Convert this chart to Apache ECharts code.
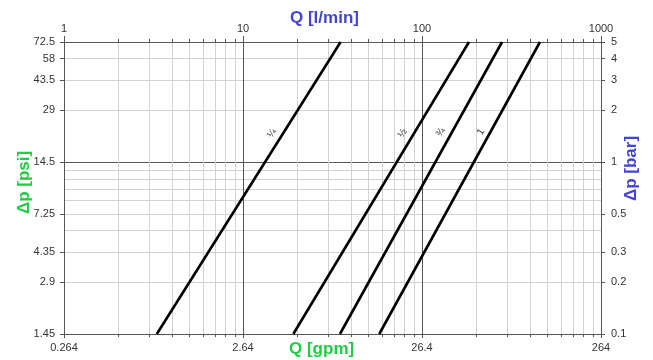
<!DOCTYPE html>
<html>
<head>
<meta charset="utf-8">
<script src="https://cdn.jsdelivr.net/npm/echarts@6/dist/echarts.min.js"></script>
<style>
    html, body { margin: 0; padding: 0; background: #fff; }
    #main { width: 653px; height: 360px; }
</style>
</head>
<body>
<div id="main"></div>
<script>
// Q in l/min, dp in bar, read where each curve meets the frame
var flowQuarter = [3.3, 35.1];
var dpQuarter = [0.1, 5];
var flowHalf = [19.1, 183];
var dpHalf = [0.1, 5];
var flowThreeQuarter = [34.8, 280];
var dpThreeQuarter = [0.1, 5];
var flowOne = [57.7, 456];
var dpOne = [0.1, 5];

// size labels written along the curves
var sizeNames = ['¼', '½', '¾', '1'];
var sizeLabelFlow = [14.5, 78, 127, 213];
var sizeLabelDp = [1.47, 1.47, 1.49, 1.5];

// axis ticks
var flowTicks = [1, 10, 100, 1000];
var gpmLabels = ['0.264', '2.64', '26.4', '264'];
var barTicks = [0.1, 0.2, 0.3, 0.5, 1, 2, 3, 4, 5];
var barLabels = ['0.1', '0.2', '0.3', '0.5', '1', '2', '3', '4', '5'];
var psiLabels = ['1.45', '2.9', '4.35', '7.25', '14.5', '29', '43.5', '58', '72.5'];

var FONT = 'Liberation Sans, Arial, sans-serif';
var BLUE = '#4444d4';
var GREEN = '#22cc44';
var DARK = '#555555';
var LIGHT = '#d2d2d2';

function findIndex(list, value) {
    for (var i = 0; i < list.length; i++) {
        if (Math.abs(list[i] - value) < list[i] * 1e-4) {
            return i;
        }
    }
    return -1;
}

function lineSeries(flows, dps, idx) {
    var data = [];
    for (var i = 0; i < flows.length; i++) {
        data.push([flows[i], dps[i]]);
    }
    return {
        name: sizeNames[idx],
        type: 'line',
        xAxisIndex: 0,
        yAxisIndex: 1,
        data: data,
        symbol: 'none',
        silent: true,
        lineStyle: { color: '#000', width: 2.6 },
        markPoint: {
            symbol: 'circle',
            symbolSize: 0,
            silent: true,
            label: {
                show: true,
                position: 'inside',
                rotate: 58,
                color: '#333',
                fontSize: 10,
                fontFamily: FONT,
                formatter: sizeNames[idx]
            },
            data: [{ coord: [sizeLabelFlow[idx], sizeLabelDp[idx]] }]
        }
    };
}

// dark line at 1 bar, light for the rest
var barSplitColors = [];
for (var i = 0; i < barTicks.length; i++) {
    barSplitColors.push((barTicks[i] === 1 || i === 0 || i === barTicks.length - 1) ? DARK : LIGHT);
}

var myChart = echarts.init(document.getElementById('main'));
var option = {
    animation: false,
    backgroundColor: '#fff',
    grid: { left: 64, right: 52, top: 42, bottom: 26 },
    xAxis: [
        {
            type: 'log',
            position: 'top',
            min: 1,
            max: 1000,
            axisLine: { onZero: false, lineStyle: { color: DARK, width: 1 } },
            axisTick: { show: true, length: 6, lineStyle: { color: DARK } },
            minorTick: { show: true, splitNumber: 9, length: 3, lineStyle: { color: DARK } },
            axisLabel: {
                color: '#333', fontSize: 11, fontFamily: FONT, margin: 8,
                formatter: function (v) { return String(Math.round(v)); }
            },
            splitLine: { show: true, lineStyle: { color: DARK, width: 1 } },
            minorSplitLine: { show: true, lineStyle: { color: LIGHT, width: 1 } }
        },
        {
            type: 'log',
            position: 'bottom',
            min: 1,
            max: 1000,
            axisLine: { onZero: false, lineStyle: { color: DARK, width: 1 } },
            axisTick: { show: true, length: 4, lineStyle: { color: DARK } },
            minorTick: { show: true, splitNumber: 9, length: 3, lineStyle: { color: DARK } },
            axisLabel: {
                color: '#333', fontSize: 11, fontFamily: FONT, margin: 8,
                formatter: function (v) {
                    var k = findIndex(flowTicks, v);
                    return k >= 0 ? gpmLabels[k] : '';
                }
            },
            splitLine: { show: false }
        }
    ],
    yAxis: [
        {
            type: 'log',
            position: 'left',
            min: 0.1,
            max: 5,
            axisLine: { onZero: false, lineStyle: { color: DARK, width: 1 } },
            axisTick: { show: true, length: 4, customValues: barTicks, lineStyle: { color: DARK } },
            axisLabel: {
                color: '#333', fontSize: 11, fontFamily: FONT, margin: 9,
                customValues: barTicks,
                formatter: function (v) {
                    var k = findIndex(barTicks, v);
                    return k >= 0 ? psiLabels[k] : '';
                }
            },
            splitLine: { show: false }
        },
        {
            type: 'log',
            position: 'right',
            min: 0.1,
            max: 5,
            axisLine: { onZero: false, lineStyle: { color: DARK, width: 1 } },
            axisTick: { show: true, length: 4, customValues: barTicks, lineStyle: { color: DARK } },
            minorTick: { show: false, splitNumber: 9 },
            axisLabel: {
                color: '#333', fontSize: 11, fontFamily: FONT, margin: 10,
                customValues: barTicks,
                formatter: function (v) {
                    var k = findIndex(barTicks, v);
                    return k >= 0 ? barLabels[k] : '';
                }
            },
            splitLine: { show: true, lineStyle: { color: barSplitColors, width: 1 } },
            minorSplitLine: { show: true, lineStyle: { color: LIGHT, width: 1 } }
        }
    ],
    graphic: [
        {
            type: 'text', left: 290, top: 10,
            style: { text: 'Q [l/min]', fill: BLUE, font: 'bold 17px ' + FONT }
        },
        {
            type: 'text', left: 289, top: 341,
            style: { text: 'Q [gpm]', fill: GREEN, font: 'bold 17px ' + FONT }
        },
        {
            type: 'text', x: 16, y: 214, rotation: Math.PI / 2,
            style: { text: 'Δp [psi]', fill: GREEN, font: 'bold 17px ' + FONT }
        },
        {
            type: 'text', x: 623, y: 201, rotation: Math.PI / 2,
            style: { text: 'Δp [bar]', fill: BLUE, font: 'bold 17px ' + FONT }
        }
    ],
    series: [
        lineSeries(flowQuarter, dpQuarter, 0),
        lineSeries(flowHalf, dpHalf, 1),
        lineSeries(flowThreeQuarter, dpThreeQuarter, 2),
        lineSeries(flowOne, dpOne, 3)
    ]
};
myChart.setOption(option);
</script>
</body>
</html>
